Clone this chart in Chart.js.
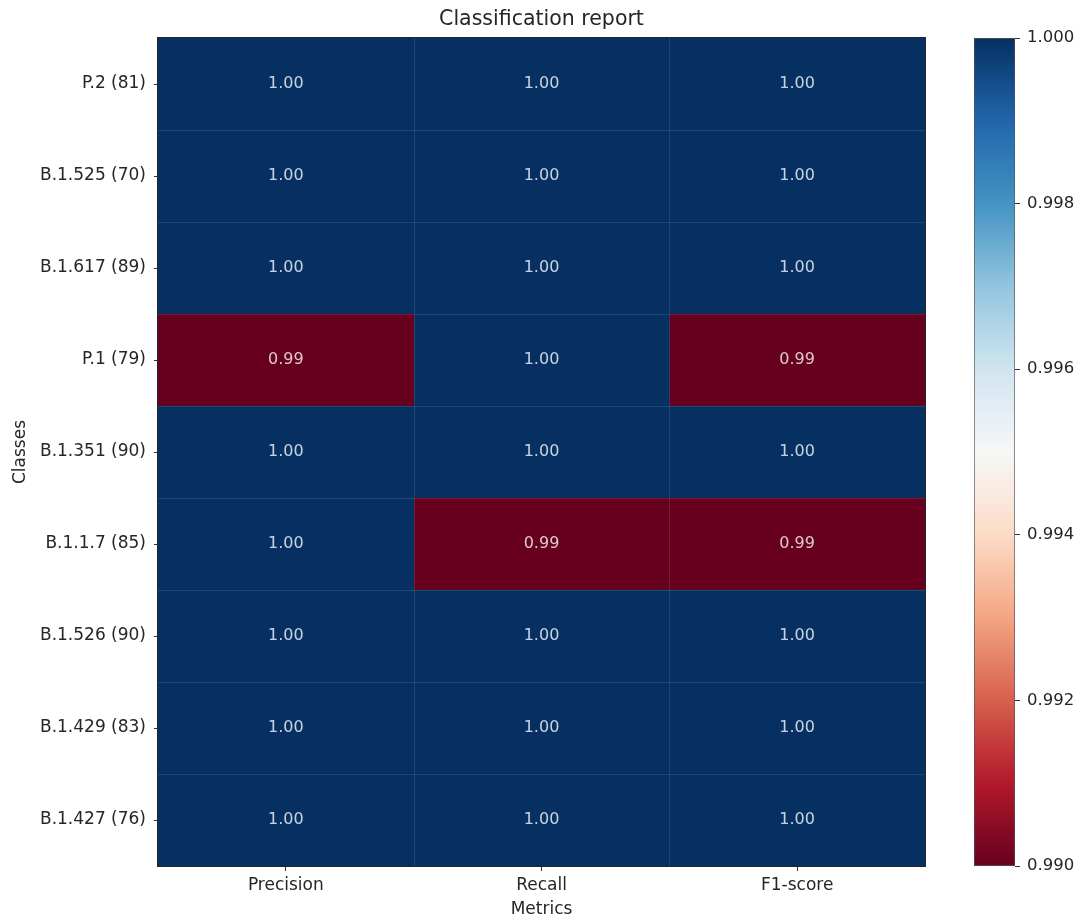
<!DOCTYPE html>
<html>
<head>
<meta charset="utf-8">
<title>Classification report</title>
<script src="https://cdn.jsdelivr.net/npm/chart.js@4.4.1/dist/chart.umd.min.js"></script>
<style>
  html, body { margin: 0; padding: 0; background: #ffffff; }
  #wrap { position: relative; width: 1082px; height: 920px; }
  #heat { position: absolute; left: 0; top: 0; }
  #cbar { position: absolute; left: 960px; top: 0; }
</style>
</head>
<body>
<div id="wrap">
  <canvas id="heat" width="1082" height="920"></canvas>
  <canvas id="cbar" width="122" height="920"></canvas>
</div>
<script>
// Classes (support count in brackets), top to bottom
const classes = [
  'P.2 (81)', 'B.1.525 (70)', 'B.1.617 (89)', 'P.1 (79)', 'B.1.351 (90)',
  'B.1.1.7 (85)', 'B.1.526 (90)', 'B.1.429 (83)', 'B.1.427 (76)'
];
const metrics = ['Precision', 'Recall', 'F1-score'];

// Per-class scores
const precision = [1.00, 1.00, 1.00, 0.99, 1.00, 1.00, 1.00, 1.00, 1.00];
const recall    = [1.00, 1.00, 1.00, 1.00, 1.00, 0.99, 1.00, 1.00, 1.00];
const f1Score   = [1.00, 1.00, 1.00, 0.99, 1.00, 0.99, 1.00, 1.00, 1.00];

// Colour scale limits and colorbar ticks
const colorRange = [0.990, 1.000];
const colorbarTicks = [0.990, 0.992, 0.994, 0.996, 0.998, 1.000];

const scoreColumns = [precision, recall, f1Score];

// RdBu colormap (11 ColorBrewer stops, red -> blue)
const RDBU = [
  [103, 0, 31], [178, 24, 43], [214, 96, 77], [244, 165, 130], [253, 219, 199],
  [247, 247, 247], [209, 229, 240], [146, 197, 222], [67, 147, 195], [33, 102, 172], [5, 48, 97]
];
function rdbu(t) {
  t = Math.min(1, Math.max(0, t));
  const pos = t * (RDBU.length - 1);
  const i = Math.min(RDBU.length - 2, Math.floor(pos));
  const f = pos - i;
  const a = RDBU[i], b = RDBU[i + 1];
  const c = a.map((v, k) => Math.round(v + (b[k] - v) * f));
  return `rgb(${c[0]},${c[1]},${c[2]})`;
}
function colorFor(v) {
  return rdbu((v - colorRange[0]) / (colorRange[1] - colorRange[0]));
}

const FONT = 'DejaVu Sans';
const TEXT = '#262626';

// Cell separators, outer frame and score annotations
const heatDecor = {
  id: 'heatDecor',
  afterDatasetsDraw(chart) {
    const { ctx, chartArea: a, scales: { x, y } } = chart;
    ctx.save();
    ctx.strokeStyle = 'rgba(255,255,255,0.11)';
    ctx.lineWidth = 1;
    ctx.beginPath();
    for (let j = 1; j < metrics.length; j++) {
      const px = Math.round(x.getPixelForValue(j)) + 0.5;
      ctx.moveTo(px, a.top); ctx.lineTo(px, a.bottom);
    }
    for (let i = 1; i < classes.length; i++) {
      const py = Math.round((y.getPixelForValue(i - 1) + y.getPixelForValue(i)) / 2) + 0.5;
      ctx.moveTo(a.left, py); ctx.lineTo(a.right, py);
    }
    ctx.stroke();

    ctx.fillStyle = 'rgba(255,255,255,0.78)';
    ctx.font = `16px "${FONT}"`;
    ctx.textAlign = 'center';
    ctx.textBaseline = 'middle';
    chart.data.datasets.forEach((ds, j) => {
      const meta = chart.getDatasetMeta(j);
      meta.data.forEach((bar, i) => {
        const cx = (bar.x + bar.base) / 2;
        ctx.fillText(ds.scores[i].toFixed(2), cx, bar.y);
      });
    });

    ctx.strokeStyle = '#262626';
    ctx.strokeRect(Math.round(a.left) - 0.5, Math.round(a.top) - 0.5,
                   Math.round(a.right - a.left) + 1, Math.round(a.bottom - a.top) + 1);
    ctx.restore();
  }
};

new Chart(document.getElementById('heat'), {
  type: 'bar',
  data: {
    labels: classes,
    datasets: metrics.map((m, j) => ({
      label: m,
      scores: scoreColumns[j],
      data: classes.map(() => [j, j + 1]),
      backgroundColor: scoreColumns[j].map(colorFor),
      borderWidth: 0,
      grouped: false,
      barPercentage: 1,
      categoryPercentage: 1
    }))
  },
  options: {
    indexAxis: 'y',
    responsive: false,
    animation: false,
    devicePixelRatio: 1,
    layout: { padding: { left: 0, right: 157, top: 0, bottom: 0 } },
    plugins: {
      legend: { display: false },
      tooltip: { enabled: false },
      title: {
        display: true,
        text: 'Classification report',
        fullSize: false,
        color: TEXT,
        font: { family: FONT, size: 20.5, weight: 'normal', lineHeight: 1.2 },
        padding: { top: 7, bottom: 6.4 }
      }
    },
    scales: {
      x: {
        type: 'linear',
        min: 0,
        max: metrics.length,
        afterBuildTicks(scale) { scale.ticks = metrics.map((_, j) => ({ value: j + 0.5 })); },
        afterFit(scale) { scale.height = 54; },
        ticks: {
          color: TEXT,
          padding: 4,
          maxRotation: 0,
          autoSkip: false,
          font: { family: FONT, size: 17 },
          callback: (v) => metrics[Math.floor(v)]
        },
        grid: { drawOnChartArea: false, drawTicks: true, tickLength: 5, color: '#333' },
        border: { display: false },
        title: {
          display: true, text: 'Metrics', color: TEXT,
          font: { family: FONT, size: 17 }, padding: { top: 0, bottom: 0 }
        }
      },
      y: {
        type: 'category',
        afterFit(scale) { scale.width = 158; },
        ticks: {
          color: TEXT,
          padding: 8,
          autoSkip: false,
          font: { family: FONT, size: 17 }
        },
        grid: { offset: false, drawOnChartArea: false, drawTicks: true, tickLength: 4, color: '#333' },
        border: { display: false },
        title: {
          display: true, text: 'Classes', color: TEXT,
          font: { family: FONT, size: 17 }, padding: { top: 10, bottom: 0 }
        }
      }
    }
  },
  plugins: [heatDecor]
});

// Colorbar: one floating bar across the colour range, filled with the colormap
function colorbarFill(context) {
  const { chart } = context;
  const a = chart.chartArea;
  if (!a) return RDBU[0];
  const g = chart.ctx.createLinearGradient(0, a.bottom, 0, a.top);
  const n = 64;
  for (let k = 0; k <= n; k++) g.addColorStop(k / n, rdbu(k / n));
  return g;
}

new Chart(document.getElementById('cbar'), {
  type: 'bar',
  data: {
    labels: ['scale'],
    datasets: [{
      data: [[colorRange[0], colorRange[1]]],
      backgroundColor: colorbarFill,
      borderColor: '#555',
      borderWidth: 1,
      borderSkipped: false,
      barPercentage: 1,
      categoryPercentage: 1
    }]
  },
  options: {
    responsive: false,
    animation: false,
    devicePixelRatio: 1,
    layout: { padding: { left: 14, right: 0, top: 38, bottom: 54 } },
    plugins: { legend: { display: false }, tooltip: { enabled: false } },
    scales: {
      x: { display: false },
      y: {
        type: 'linear',
        position: 'right',
        min: colorRange[0],
        max: colorRange[1],
        afterBuildTicks(scale) { scale.ticks = colorbarTicks.map(v => ({ value: v })); },
        afterFit(scale) { scale.width = 67; },
        ticks: {
          color: TEXT,
          padding: 7,
          font: { family: FONT, size: 16.5 },
          callback: (v) => Number(v).toFixed(3)
        },
        grid: { drawOnChartArea: false, drawTicks: true, tickLength: 5, color: '#333' },
        border: { display: false }
      }
    }
  }
});
</script>
</body>
</html>
